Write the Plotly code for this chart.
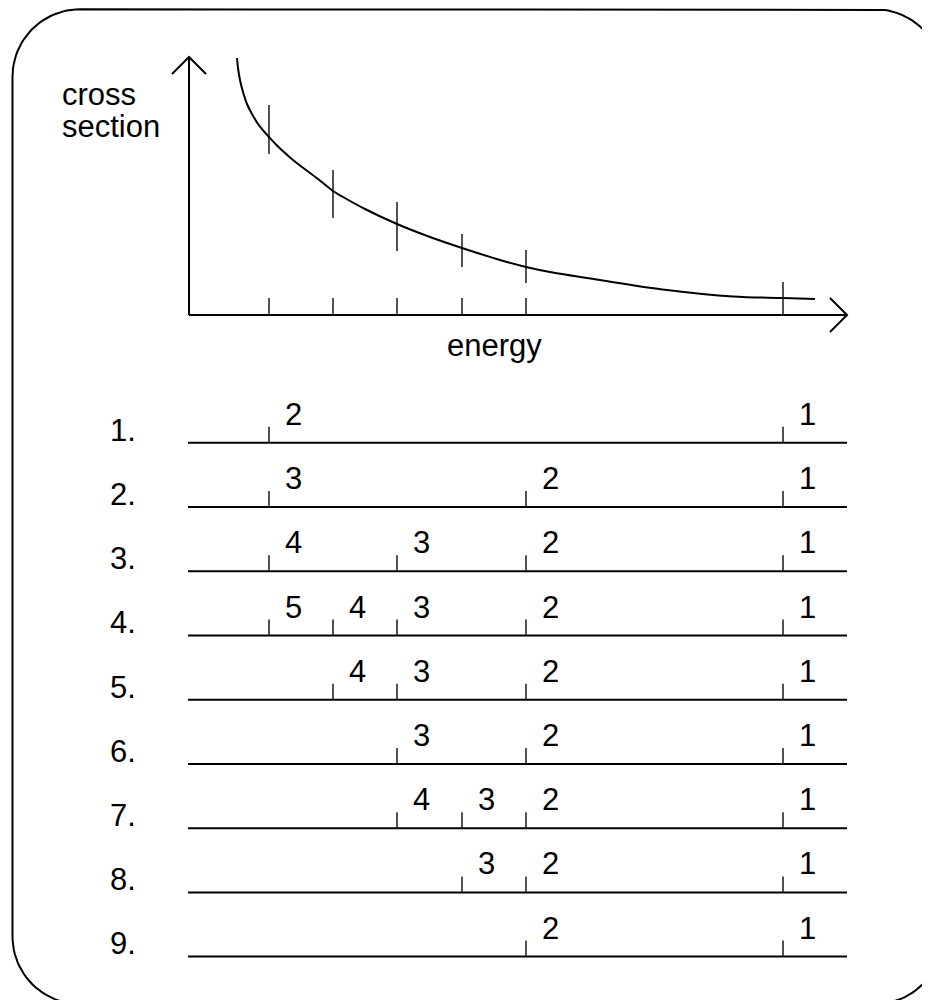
import math
import plotly.graph_objects as go

# ---------------- data (diagram units = pixel-like coordinates) ----------------
energy_ticks = [269, 333, 397, 462, 526, 783]          # energy bin edges on the axis

curve_x = [237, 238, 240, 243, 247, 252, 258, 264, 269, 277, 285, 293, 302, 318,
           333, 343, 365, 397, 430, 462, 500, 526, 550, 600, 667, 733, 783, 815]
curve_y = [58, 68, 80, 92, 104, 114, 124, 131.5, 137, 145.5, 153, 160, 167, 179,
           191, 197, 209, 224, 237, 248, 260, 267, 272, 280, 290, 296.5, 298, 299]

bar_low = [105, 170, 202, 234, 250, 282]               # vertical marks through curve
bar_high = [154, 218, 251, 267, 283, 299]

row_names = ["1.", "2.", "3.", "4.", "5.", "6.", "7.", "8.", "9."]
row_y = [442.7, 507, 571.3, 635.5, 699.7, 764, 828.2, 892.4, 956.6]
row_tick_idx = [
    [0, 5],
    [0, 4, 5],
    [0, 2, 4, 5],
    [0, 1, 2, 4, 5],
    [1, 2, 4, 5],
    [2, 4, 5],
    [2, 3, 4, 5],
    [3, 4, 5],
    [4, 5],
]
row_tick_labels = [
    ["2", "1"],
    ["3", "2", "1"],
    ["4", "3", "2", "1"],
    ["5", "4", "3", "2", "1"],
    ["4", "3", "2", "1"],
    ["3", "2", "1"],
    ["4", "3", "2", "1"],
    ["3", "2", "1"],
    ["2", "1"],
]

axis_origin = (189, 315)
y_axis_top = 57
x_axis_end = 847
arrow = 17
axis_tick_len = 17
row_x0, row_x1 = 188, 847
row_tick_len = 16

FONT = "Liberation Sans, Arial, Helvetica, sans-serif"
FS = 31
BLACK = "#000000"
TICKC = "#1a1a1a"

# page body has an 8px margin: figure placed at (8, 8), 1 axis unit = 1 px
PAGE_OFF = 8
W, H = 930, 1000

fig = go.Figure()


def seg_trace(xs, ys, width, color):
    fig.add_trace(go.Scatter(x=xs, y=ys, mode="lines",
                             line=dict(color=color, width=width),
                             hoverinfo="skip", showlegend=False))


# ---------------- rounded frame (decoration, clipped by the plot area) ----------------
L, T, R, B, r = 12.5, 9.3, 942.5, 1004, 67.5


def corner(cx, cy, a1, a2, n=24):
    xs, ys = [], []
    for i in range(n + 1):
        a = a1 + (a2 - a1) * i / n
        xs.append(cx + r * math.cos(a))
        ys.append(cy + r * math.sin(a))
    return xs, ys


fx, fy = [], []
for cx, cy, a1, a2 in [(L + r, T + r, math.pi, 1.5 * math.pi),
                       (R - r, T + r, 1.5 * math.pi, 2 * math.pi),
                       (R - r, B - r, 0, 0.5 * math.pi),
                       (L + r, B - r, 0.5 * math.pi, math.pi)]:
    xs, ys = corner(cx, cy, a1, a2)
    fx += xs
    fy += ys
fx.append(fx[0])
fy.append(fy[0])
seg_trace(fx, fy, 2, BLACK)

ox, oy = axis_origin
seg_trace([ox, ox, None, ox - arrow, ox, ox + arrow],
          [oy, y_axis_top, None, y_axis_top + arrow, y_axis_top, y_axis_top + arrow], 2, BLACK)
seg_trace([ox, x_axis_end, None, x_axis_end - arrow, x_axis_end, x_axis_end - arrow],
          [oy, oy, None, oy - arrow, oy, oy + arrow], 2, BLACK)

tx, ty = [], []
for e in energy_ticks:
    tx += [e, e, None]
    ty += [oy, oy - axis_tick_len, None]
seg_trace(tx, ty, 1.5, TICKC)

mx, my = [], []
for e, lo, hi in zip(energy_ticks, bar_low, bar_high):
    mx += [e, e, None]
    my += [lo, hi, None]
seg_trace(mx, my, 1.5, TICKC)

fig.add_trace(go.Scatter(x=curve_x, y=curve_y, mode="lines",
                         line=dict(color=BLACK, width=2, shape="spline", smoothing=1.0),
                         hoverinfo="skip", showlegend=False))

lx, ly = [], []
kx, ky = [], []
annotations = []
for name, y, idxs, labs in zip(row_names, row_y, row_tick_idx, row_tick_labels):
    lx += [row_x0, row_x1, None]
    ly += [y, y, None]
    annotations.append(dict(x=108, y=y + 6.8, text=name, xanchor="left", yanchor="bottom",
                            showarrow=False, font=dict(family=FONT, size=FS, color=BLACK)))
    for i, lab in zip(idxs, labs):
        e = energy_ticks[i]
        kx += [e, e, None]
        ky += [y, y - row_tick_len, None]
        annotations.append(dict(x=e + 24.5, y=y - 9.0, text=lab, xanchor="center", yanchor="bottom",
                                showarrow=False, font=dict(family=FONT, size=FS, color=BLACK)))
seg_trace(lx, ly, 2, BLACK)
seg_trace(kx, ky, 1.5, TICKC)

annotations.append(dict(x=60, y=105.5 + 8.8, text="cross", xanchor="left", yanchor="bottom",
                        showarrow=False, font=dict(family=FONT, size=FS, color=BLACK)))
annotations.append(dict(x=60, y=137 + 8.8, text="section", xanchor="left", yanchor="bottom",
                        showarrow=False, font=dict(family=FONT, size=FS, color=BLACK)))
annotations.append(dict(x=494, y=356 + 8.8, text="energy", xanchor="center", yanchor="bottom",
                        showarrow=False, font=dict(family=FONT, size=FS, color=BLACK)))

fig.update_layout(
    width=W - PAGE_OFF, height=H - PAGE_OFF,
    margin=dict(l=0, r=0, t=0, b=0),
    paper_bgcolor="white", plot_bgcolor="white",
    xaxis=dict(range=[PAGE_OFF, W], visible=False, fixedrange=True),
    yaxis=dict(range=[H, PAGE_OFF], visible=False, fixedrange=True),
    annotations=annotations,
    showlegend=False,
)

fig.write_html("out.html")
